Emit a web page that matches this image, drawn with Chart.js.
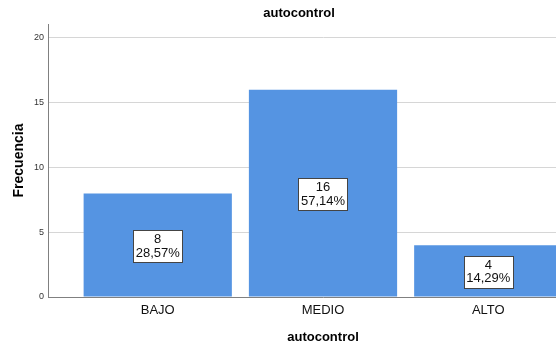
<!DOCTYPE html>
<html>
<head>
<meta charset="utf-8">
<script src="https://cdn.jsdelivr.net/npm/chart.js@4.4.1/dist/chart.umd.min.js"></script>
<style>
  html, body { margin: 0; padding: 0; background: #fff; overflow: hidden; }
  #wrap { width: 556px; height: 345px; overflow: hidden; }
  canvas { display: block; }
</style>
</head>
<body>
<div id="wrap"><canvas id="c" width="598" height="345"></canvas></div>
<script>
// Frequency table for "autocontrol"
const categories = ['BAJO', 'MEDIO', 'ALTO'];
const counts = [8, 16, 4];
const yTicks = [0, 5, 10, 15, 20];

const total = counts.reduce((a, b) => a + b, 0);
const percents = counts.map(v => (v / total * 100).toFixed(2).replace('.', ',') + '%');

const FONT = '"Liberation Sans", Arial, sans-serif';

// Boxed "count / percent" label in the middle of each bar
const boxLabels = {
  id: 'boxLabels',
  afterDatasetsDraw(chart) {
    const ctx = chart.ctx;
    const meta = chart.getDatasetMeta(0);
    ctx.save();
    ctx.font = '13px ' + FONT;
    ctx.textAlign = 'center';
    ctx.textBaseline = 'middle';
    meta.data.forEach((bar, i) => {
      const p = bar.getProps(['x', 'y', 'base'], true);
      const cx = p.x;
      const cy = (p.y + p.base) / 2 + 1;
      const l1 = String(counts[i]);
      const l2 = percents[i];
      const w = Math.round(Math.max(ctx.measureText(l1).width, ctx.measureText(l2).width) + 5);
      const h = 32;
      const x0 = Math.round(cx - w / 2) + 0.5;
      const y0 = Math.round(cy - h / 2) + 0.5;
      ctx.fillStyle = '#ffffff';
      ctx.fillRect(x0, y0, w, h);
      ctx.strokeStyle = '#444444';
      ctx.lineWidth = 1;
      ctx.strokeRect(x0, y0, w, h);
      ctx.fillStyle = '#111111';
      ctx.fillText(l1, cx, cy - 6.5);
      ctx.fillText(l2, cx, cy + 7);
    });
    ctx.restore();
  }
};

new Chart(document.getElementById('c'), {
  type: 'bar',
  data: {
    datasets: [{
      data: counts.map((v, i) => ({ x: i + 1, y: v })),
      backgroundColor: '#5594E2',
      borderWidth: 0,
      categoryPercentage: 1,
      barPercentage: 0.897
    }]
  },
  plugins: [boxLabels],
  options: {
    responsive: false,
    animation: false,
    layout: { padding: { left: 0, right: 0, top: 0, bottom: 0 } },
    plugins: {
      legend: { display: false },
      tooltip: { enabled: false },
      title: {
        display: true,
        text: 'autocontrol',
        color: '#000',
        font: { family: FONT, size: 13, weight: 'bold' },
        padding: { top: 6, bottom: 2.4 }
      }
    },
    scales: {
      x: {
        type: 'linear',
        offset: false,
        min: 0.336,
        max: 3.664,
        afterBuildTicks(scale) {
          scale.ticks = categories.map((_, i) => ({ value: i + 1 }));
        },
        afterFit(scale) { scale.height = 48; },
        grid: { display: false, drawTicks: false, offset: false },
        border: { display: true, color: '#808080', width: 1 },
        ticks: {
          autoSkip: false,
          maxRotation: 0,
          padding: 6,
          color: '#111',
          font: { family: FONT, size: 13 },
          callback: (v) => categories[Math.round(v) - 1] || ''
        },
        title: {
          display: true,
          text: 'autocontrol',
          color: '#000',
          font: { family: FONT, size: 13, weight: 'bold' },
          padding: { top: 4, bottom: 0 }
        }
      },
      y: {
        min: 0,
        max: 21.08,
        afterBuildTicks(scale) {
          scale.ticks = yTicks.map(v => ({ value: v }));
        },
        afterFit(scale) { scale.width = 48; },
        grid: { color: '#d6d6d6', lineWidth: 1, drawTicks: false },
        border: { display: true, color: '#808080', width: 1 },
        ticks: {
          padding: 4,
          color: '#333',
          font: { family: FONT, size: 9 }
        },
        title: {
          display: true,
          text: 'Frecuencia',
          color: '#000',
          font: { family: FONT, size: 14, weight: 'bold' },
          padding: { top: 11, bottom: 0 }
        }
      }
    }
  }
});
</script>
</body>
</html>
